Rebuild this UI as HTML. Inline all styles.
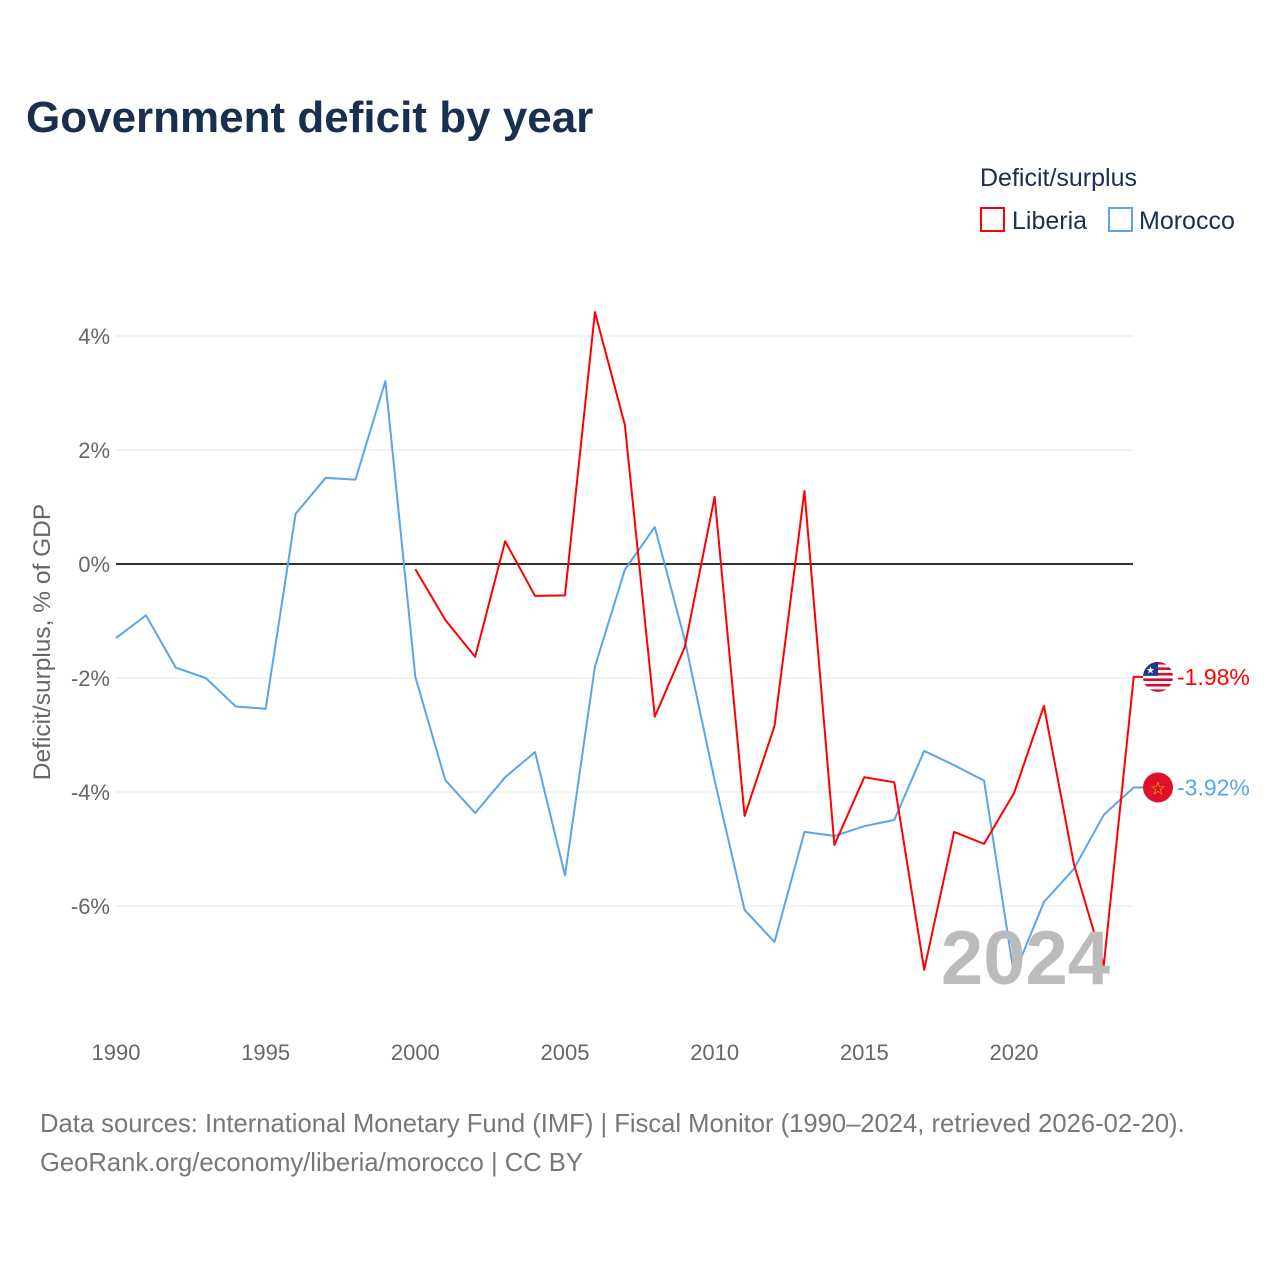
<!DOCTYPE html>
<html><head><meta charset="utf-8"><style>
body{margin:0;background:#fff;width:1280px;height:1280px;overflow:hidden;font-family:"Liberation Sans",sans-serif}
svg text{font-family:"Liberation Sans",sans-serif}
</style></head><body>
<svg id="c" width="1280" height="1280">
<defs><clipPath id="fc"><circle cx="1158" cy="677" r="15"/></clipPath></defs>
<text x="26" y="132" font-size="44" font-weight="bold" fill="#1a2e4f">Government deficit by year</text>
<text x="980" y="186" font-size="25" fill="#1a2e4f">Deficit/surplus</text>
<g><rect x="981" y="208" width="23" height="23" fill="none" stroke="#f00" stroke-width="2"/><text x="1012" y="229" font-size="25" fill="#1a2e4f">Liberia</text></g>
<g><rect x="1109" y="208" width="23" height="23" fill="none" stroke="#5aa5ea" stroke-width="2"/><text x="1139" y="229" font-size="25" fill="#1a2e4f">Morocco</text></g>
<text transform="translate(50,642) rotate(-90)" text-anchor="middle" font-size="24.5" fill="#666">Deficit/surplus, % of GDP</text>
<g id="grid"></g><g id="marks"></g>
<text x="1110" y="984" text-anchor="end" font-size="76" font-weight="bold" fill="#bbb">2024</text>
<text x="40" y="1132" font-size="25.6" fill="#777">Data sources: International Monetary Fund (IMF) | Fiscal Monitor (1990–2024, retrieved 2026-02-20).</text>
<text x="40" y="1171" font-size="25.6" fill="#777">GeoRank.org/economy/liberia/morocco | CC BY</text>
</svg>
<script>
const yTicks=[4,2,0,-2,-4,-6];
const xTicks=[1990,1995,2000,2005,2010,2015,2020];
const moroccoYears=[1990,1991,1992,1993,1994,1995,1996,1997,1998,1999,2000,2001,2002,2003,2004,2005,2006,2007,2008,2009,2010,2011,2012,2013,2014,2015,2016,2017,2018,2019,2020,2021,2022,2023,2024];
const moroccoValues=[-1.3,-0.9,-1.82,-2.0,-2.5,-2.54,0.88,1.51,1.48,3.21,-1.98,-3.79,-4.37,-3.74,-3.3,-5.46,-1.8,-0.1,0.65,-1.33,-3.8,-6.07,-6.63,-4.7,-4.77,-4.6,-4.49,-3.28,-3.53,-3.8,-7.21,-5.93,-5.35,-4.4,-3.92];
const liberiaYears=[2000,2001,2002,2003,2004,2005,2006,2007,2008,2009,2010,2011,2012,2013,2014,2015,2016,2017,2018,2019,2020,2021,2022,2023,2024];
const liberiaValues=[-0.09,-0.98,-1.63,0.4,-0.56,-0.55,4.42,2.44,-2.68,-1.46,1.18,-4.42,-2.84,1.28,-4.93,-3.74,-3.83,-7.12,-4.7,-4.91,-4.02,-2.49,-5.26,-7.04,-1.98];
const NS="http://www.w3.org/2000/svg";
const x=v=>116+(v-1990)*(1014-116)/30;
const y=v=>564-v*57;
function mk(t,a,p){const e=document.createElementNS(NS,t);for(const k in a)e.setAttribute(k,a[k]);p.appendChild(e);return e;}
const g=document.getElementById('grid'),m=document.getElementById('marks');
yTicks.forEach(t=>{
  const l=mk('line',{x1:116,x2:1133,y1:y(t),y2:y(t),stroke:t===0?'#333':'#e6e6e6','stroke-width':t===0?2:1},g);
  
  
  const tx=mk('text',{x:110,y:y(t)+8,'text-anchor':'end','font-size':22,fill:'#666'},g);
  tx.textContent=t+'%';
  
  
});
xTicks.forEach(t=>{
  const tx=mk('text',{x:x(t),y:1060,'text-anchor':'middle','font-size':22,fill:'#666'},g);
  tx.textContent=t;
  
  
});
function line(xs,vs,col,name){
  const pts=xs.map((yr,i)=>x(yr)+','+y(vs[i]));
  pts.push('1143,'+y(vs[vs.length-1]));
  const p=mk('polyline',{points:pts.join(' '),fill:'none',stroke:col,'stroke-width':2,'stroke-linejoin':'round'},m);
  
  
}
line(moroccoYears,moroccoValues,'#5aa5ea','morocco-line');
line(liberiaYears,liberiaValues,'#f00','liberia-line');
function endLabel(xs,vs,col,name,flag){
  const yy=y(vs[vs.length-1]);
  const gg=mk('g',{},m);
  
  
  if(flag==='lr'){
    document.querySelector('#fc circle').setAttribute('cy',yy);
    const f=mk('g',{'clip-path':'url(#fc)'},gg);
    mk('rect',{x:1143,y:yy-15,width:30,height:30,fill:'#fff'},f);
    for(let i=0;i<6;i++)mk('rect',{x:1143,y:yy-15+i*5.5,width:30,height:2.7,fill:'#d21034'},f);
    mk('rect',{x:1143,y:yy-15,width:15,height:14,fill:'#1a3a8f'},f);
    mk('text',{x:1150.5,y:yy-3.5,'text-anchor':'middle','font-size':10,fill:'#fff'},f).textContent='★';
  }else{
    mk('circle',{cx:1158,cy:yy,r:15,fill:'#e0102b'},gg);
    mk('text',{x:1158,y:yy+7,'text-anchor':'middle','font-size':18,fill:'#f5c400'},gg).textContent='☆';
  }
  const t=mk('text',{x:1177,y:yy+8,'font-size':23,fill:col},gg);
  t.textContent=vs[vs.length-1].toFixed(2)+'%';
}
endLabel(liberiaYears,liberiaValues,'#f00','liberia-end-label','lr');
endLabel(moroccoYears,moroccoValues,'#5aa5ea','morocco-end-label','ma');
</script>
</body></html>
